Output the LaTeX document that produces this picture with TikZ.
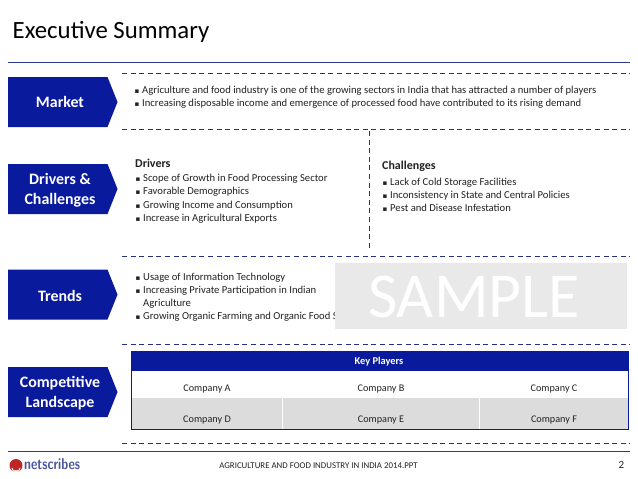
\documentclass[tikz,border=0pt]{standalone}
\usepackage{fontspec}
\setmainfont{Carlito}
\newfontfamily\sym{DejaVu Sans}
\definecolor{navy}{HTML}{0A1A9C}
\definecolor{rulec}{HTML}{2B3A8C}
\definecolor{dashc}{HTML}{27307F}
\definecolor{txt}{HTML}{222222}
\definecolor{band}{HTML}{DCDCDC}
\definecolor{samp}{HTML}{E9E9E9}
\newcommand{\bl}{\llap{\fontsize{7}{7}\sym ▪\hspace{2.8pt}}}
\tikzset{
  x=1pt,y=-1pt,
  chev/.style={fill=navy,draw=none},
  chevtext/.style={text=white,font=\fontsize{15.9}{20}\selectfont\bfseries,align=center,anchor=center,yshift=-1.2pt},
  item/.style={text=txt,font=\fontsize{10.63}{13}\selectfont,anchor=west,inner sep=0pt,yshift=-0.8pt},
  dashrule/.style={draw=dashc,line width=1pt,dash pattern=on 5pt off 3.6pt},
  solidrule/.style={draw=rulec,line width=1.1pt},
  cell/.style={text=txt,font=\fontsize{10.2}{12}\selectfont,anchor=center,inner sep=0pt,yshift=-1pt},
}
\begin{document}
\begin{tikzpicture}
\useasboundingbox (0,0) rectangle (638,479);
\fill[white] (0,0) rectangle (638,479);
% title
\node[anchor=west,inner sep=0pt,text=black,font=\fontsize{24.8}{28}\selectfont] (title) at (12.5,32) {Executive Summary};
% rules
\coordinate (r1a) at (8,62.5); \coordinate (r1b) at (630,62.5);
\draw[solidrule] (r1a) -- (r1b);
\coordinate (r2a) at (8,451.7); \coordinate (r2b) at (630,451.7);
\draw[solidrule] (r2a) -- (r2b);
\foreach \yy in {73,129,256,344,443}{
  \draw[dashrule] (122,\yy) -- (630,\yy);
}
\draw[dashrule] (369,131) -- (369,250);
% chevrons
\foreach \yy/\nm/\lab/\dy in {77/cm/Market/-1,164/cd/{Drivers \&\\Challenges}/0,269.5/ct/Trends/0,367/cc/{Competitive\\Landscape}/0}{
  \fill[chev] (8,\yy) -- (107.5,\yy) -- (117.5,\yy+25) -- (107.5,\yy+50) -- (8,\yy+50) -- cycle;
  \node[chevtext] (\nm) at (60,\yy+25+\dy) {\lab};
}
% market
\node[item] (m1) at (142,89.5) {\bl Agriculture and food industry is one of the growing sectors in India that has attracted a number of players};
\node[item] (m2) at (142,102.5) {\bl Increasing disposable income and emergence of processed food have contributed to its rising demand};
% drivers
\node[item,font=\fontsize{12}{13}\selectfont\bfseries] (d0) at (135,162.5) {Drivers};
\node[item] (d1) at (143,177.5) {\bl Scope of Growth in Food Processing Sector};
\node[item] (d2) at (143,190.5) {\bl Favorable Demographics};
\node[item] (d3) at (143,204.5) {\bl Growing Income and Consumption};
\node[item] (d4) at (143,217.5) {\bl Increase in Agricultural Exports};
% challenges
\node[item,font=\fontsize{12}{13}\selectfont\bfseries] (c0) at (382,166) {Challenges};
\node[item] (c1) at (390,181.5) {\bl Lack of Cold Storage Facilities};
\node[item] (c2) at (390,194.5) {\bl Inconsistency in State and Central Policies};
\node[item] (c3) at (390,207.5) {\bl Pest and Disease Infestation};
% trends
\node[item] (t1) at (143,276.5) {\bl Usage of Information Technology};
\node[item] (t2) at (143,289.5) {\bl Increasing Private Participation in Indian};
\node[item] (t3) at (143,302.5) {Agriculture};
\node[item] (t4) at (143,315.5) {\bl Growing Organic Farming and Organic Food Sector};
% sample
\fill[samp] (335,263) rectangle (627,329);
\node[anchor=center,inner sep=0pt,text=white,font=\fontsize{64}{65}\selectfont] (sample) at (474,296.5) {SAMPLE};
% table
\fill[band] (131.5,398) rectangle (628.5,429);
\draw[white,line width=0.8pt] (282.5,398) -- (282.5,429);
\draw[white,line width=0.8pt] (479.5,398) -- (479.5,429);
\draw[navy,line width=0.8pt] (131.5,351) rectangle (628.5,429);
\fill[navy] (131.5,351) rectangle (628.5,371);
\node[cell,text=white,font=\fontsize{10.4}{12}\selectfont\bfseries] (kp) at (379,361) {Key Players};
\node[cell] (ca) at (207,388) {Company A};
\node[cell] (cb) at (381,388) {Company B};
\node[cell] (cc) at (554,388) {Company C};
\node[cell] (cd) at (207,419) {Company D};
\node[cell] (ce) at (381,419) {Company E};
\node[cell] (cf) at (554,419) {Company F};
% footer
\node[anchor=center,inner sep=0pt,text=txt,font=\fontsize{8.85}{11}\selectfont] (foot) at (318.5,466) {AGRICULTURE AND FOOD INDUSTRY IN INDIA 2014.PPT};
\node[anchor=center,inner sep=0pt,text=txt,font=\fontsize{11}{12}\selectfont] (page) at (621.5,464.5) {2};
% logo
\fill[red!70!black!85] (16,465.5) circle (6.5);
\draw[white,line width=1pt] (12,468) arc (180:0:4);
\draw[white,line width=0.8pt] (14.5,470) arc (180:0:1.5);
\node[anchor=west,inner sep=0pt,text=rulec!85!white,font=\fontsize{15}{16}\selectfont\sffamily\bfseries] (logo) at (24,464.5) {\resizebox{56pt}{11pt}{\addfontfeature{LetterSpace=-2}netscribes}};
\end{tikzpicture}
\end{document}
